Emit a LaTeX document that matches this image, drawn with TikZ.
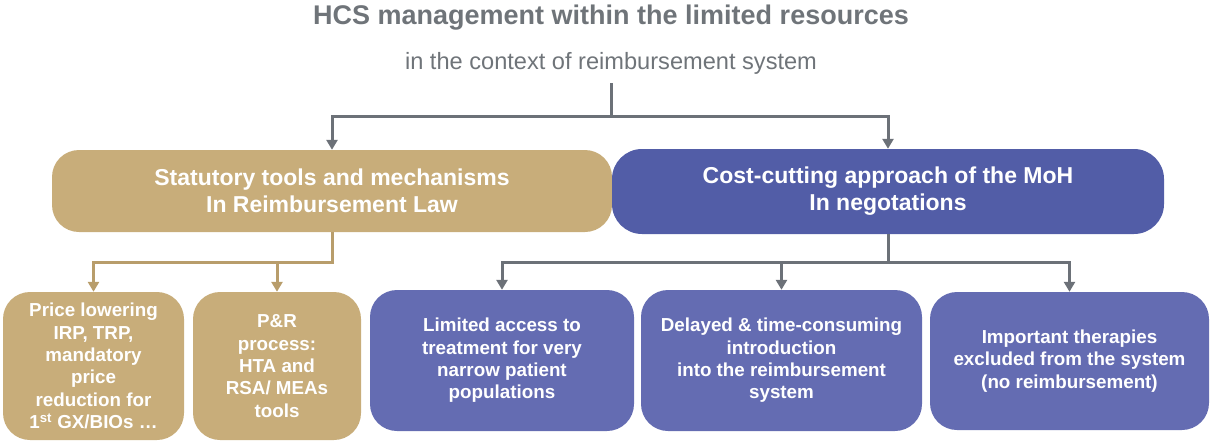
\documentclass[tikz,border=0pt]{standalone}
\usepackage{fontspec}
\setmainfont{Liberation Sans}
\usetikzlibrary{arrows.meta}
\definecolor{tanbox}{HTML}{C8AD7A}
\definecolor{tanline}{HTML}{B89D6B}
\definecolor{bluetop}{HTML}{525DA7}
\definecolor{bluebox}{HTML}{646CB2}
\definecolor{greyline}{HTML}{6C7178}
\definecolor{greytext}{HTML}{6F7479}
\tikzset{
  box/.style={rounded corners=27pt, text=white, align=center, inner sep=0pt, font=\bfseries\fontsize{18.8}{22.4}\selectfont},
  topbox/.style={box, font=\bfseries\fontsize{23}{27}\selectfont},
  conn/.style={line width=3pt, draw=greyline, -{Triangle[width=11pt,length=10pt]}},
  tanconn/.style={conn, draw=tanline},
}
\begin{document}
\begin{tikzpicture}[x=1pt,y=-1pt]
\useasboundingbox (0,0) rectangle (1212,442);
\node[font=\bfseries\fontsize{27}{30}\selectfont, text=greytext] (title) at (611,18) {HCS management within the limited resources};
\node[font=\fontsize{23.6}{26}\selectfont, text=greytext, inner sep=0pt, minimum height=40pt] (sub) at (611,63) {in the context of reimbursement system};

\node[topbox, fill=tanbox, minimum width=560pt, minimum height=82pt] (law) at (332,191) {Statutory tools and mechanisms\\In Reimbursement Law};
\node[topbox, fill=bluetop, minimum width=552pt, minimum height=85pt, rounded corners=30pt] (moh) at (888,191.5) {Cost-cutting approach of the MoH\\In negotations};

\node[box, fill=tanbox, minimum width=181pt, minimum height=148pt] (price) at (93.5,366) {Price lowering\\IRP, TRP,\\mandatory\\price\\reduction for\\1\textsuperscript{st} GX/BIOs …};
\node[box, fill=tanbox, minimum width=168pt, minimum height=148pt] (pr) at (277,366) {P\&R\\process:\\HTA and\\RSA/ MEAs\\tools};

\node[box, fill=bluebox, minimum width=264pt, minimum height=141pt] (access) at (502,360.5) {Limited access to\\treatment for very\\narrow patient\\populations};
\node[box, fill=bluebox, minimum width=281pt, minimum height=141pt] (delay) at (781.5,360.5) {Delayed \& time-consuming\\introduction\\into the reimbursement\\system};
\node[box, fill=bluebox, minimum width=279pt, minimum height=138pt] (excl) at (1069.5,361) {Important therapies\\excluded from the system\\(no reimbursement)};

% top split
\coordinate (split) at (611,116);
\draw[line width=3pt, draw=greyline] (sub.south) -- (split);
\draw[conn] (split) -| (law.north);
\draw[conn] (split) -| (moh.north);

% statutory branch
\draw[tanconn] (law.south) -- ++(0,30) -| (price.north);
\draw[tanconn] (law.south) -- ++(0,30) -| (pr.north);

% negotiation branch
\draw[conn] (moh.south) -- ++(0,28) -| (access.north);
\draw[conn] (moh.south) -- ++(0,28) -| (delay.north);
\draw[conn] (moh.south) -- ++(0,28) -| (excl.north);
\end{tikzpicture}
\end{document}
